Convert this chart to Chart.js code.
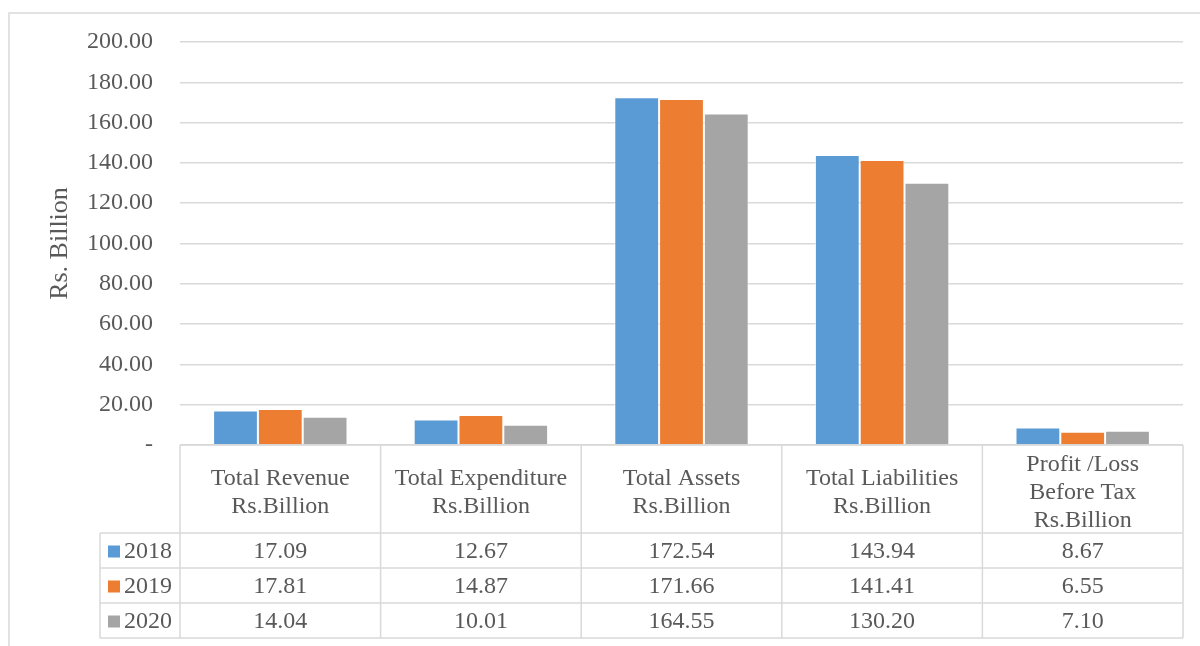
<!DOCTYPE html>
<html>
<head>
<meta charset="utf-8">
<script src="https://cdn.jsdelivr.net/npm/chart.js@4/dist/chart.umd.min.js"></script>
<style>
  html, body { margin: 0; padding: 0; background: #ffffff; }
  #wrap { width: 1200px; height: 646px; position: relative; }
</style>
</head>
<body>
<div id="wrap"><canvas id="chart"></canvas></div>
<script>
// Categories (multi-line headers of the data table)
const categories = [
  ['Total Revenue', 'Rs.Billion'],
  ['Total Expenditure', 'Rs.Billion'],
  ['Total Assets', 'Rs.Billion'],
  ['Total Liabilities', 'Rs.Billion'],
  ['Profit /Loss', 'Before Tax', 'Rs.Billion']
];
const years = ['2018', '2019', '2020'];
const values2018 = [17.09, 12.67, 172.54, 143.94, 8.67];
const values2019 = [17.81, 14.87, 171.66, 141.41, 6.55];
const values2020 = [14.04, 10.01, 164.55, 130.20, 7.10];
const seriesValues = [values2018, values2019, values2020];
const seriesColors = ['#5B9BD5', '#ED7D31', '#A5A5A5'];
const axisTitle = 'Rs. Billion';

const FONT = "'Liberation Serif', 'Times New Roman', serif";
const TEXT = '#595959';
const LINE = '#d9d9d9';

// Outer frame of the chart object
const framePlugin = {
  id: 'frame',
  beforeDraw(chart) {
    const ctx = chart.ctx;
    ctx.save();
    ctx.strokeStyle = LINE;
    ctx.lineWidth = 1.5;
    ctx.beginPath();
    ctx.moveTo(9, 646);
    ctx.lineTo(9, 13);
    ctx.lineTo(1200, 13);
    ctx.stroke();
    ctx.restore();
  }
};

// Data table drawn under the plot area, columns aligned to the category scale
const dataTablePlugin = {
  id: 'dataTable',
  afterDraw(chart) {
    const ctx = chart.ctx;
    const xs = chart.scales.x;
    const area = chart.chartArea;
    const n = categories.length;
    const colW = (area.right - area.left) / n;
    const top = area.bottom;
    const headerBottom = top + 88;
    const rowH = 35;
    const legendLeft = 100;
    const tableBottom = headerBottom + rowH * years.length;

    ctx.save();
    ctx.strokeStyle = LINE;
    ctx.lineWidth = 1.5;
    ctx.beginPath();
    // horizontal rules
    ctx.moveTo(area.left, top); ctx.lineTo(area.right, top);
    for (let r = 0; r <= years.length; r++) {
      const y = headerBottom + r * rowH;
      ctx.moveTo(legendLeft, y); ctx.lineTo(area.right, y);
    }
    // vertical rules
    for (let c = 0; c <= n; c++) {
      const x = area.left + c * colW;
      ctx.moveTo(x, top); ctx.lineTo(x, tableBottom);
    }
    ctx.moveTo(legendLeft, headerBottom); ctx.lineTo(legendLeft, tableBottom);
    ctx.stroke();

    ctx.fillStyle = TEXT;
    ctx.font = '24px ' + FONT;
    ctx.textAlign = 'center';
    ctx.textBaseline = 'middle';
    const lineGap = 28;
    const headerMid = (top + headerBottom) / 2 + 4;
    categories.forEach((lines, i) => {
      const cx = xs.getPixelForValue(i);
      const start = headerMid - (lines.length - 1) * lineGap / 2;
      lines.forEach((t, k) => ctx.fillText(t, cx, start + k * lineGap));
    });

    years.forEach((yr, r) => {
      const cy = headerBottom + r * rowH + rowH / 2 + 1;
      ctx.fillStyle = seriesColors[r];
      ctx.fillRect(108, cy - 6, 12, 12);
      ctx.fillStyle = TEXT;
      ctx.textAlign = 'left';
      ctx.fillText(yr, 124, cy);
      ctx.textAlign = 'center';
      seriesValues[r].forEach((v, i) => {
        ctx.fillText(v.toFixed(2), xs.getPixelForValue(i), cy);
      });
    });
    ctx.restore();
  }
};

new Chart(document.getElementById('chart'), {
  type: 'bar',
  data: {
    labels: categories,
    datasets: years.map((yr, r) => ({
      label: yr,
      data: seriesValues[r],
      backgroundColor: seriesColors[r],
      borderColor: 'rgba(255,255,255,0.55)',
      borderWidth: 1,
      categoryPercentage: 0.67,
      barPercentage: 1.0
    }))
  },
  options: {
    responsive: true,
    maintainAspectRatio: false,
    animation: false,
    devicePixelRatio: 1,
    layout: { padding: { left: 0, top: 42, right: 17, bottom: 201 } },
    plugins: {
      legend: { display: false },
      tooltip: { enabled: false },
      title: { display: false }
    },
    scales: {
      x: {
        display: false
      },
      y: {
        min: 0,
        max: 200,
        afterFit(scale) { scale.width = 180; },
        border: { display: false },
        grid: { color: LINE, lineWidth: 1.5, drawTicks: false },
        ticks: {
          stepSize: 20,
          padding: 27,
          color: TEXT,
          font: { family: FONT, size: 24 },
          callback: v => (v === 0 ? '-' : v.toFixed(2))
        },
        title: {
          display: true,
          text: axisTitle,
          color: TEXT,
          font: { family: FONT, size: 26, lineHeight: 1 },
          padding: { top: 47, bottom: 0 }
        }
      }
    }
  },
  plugins: [framePlugin, dataTablePlugin]
});
</script>
</body>
</html>
